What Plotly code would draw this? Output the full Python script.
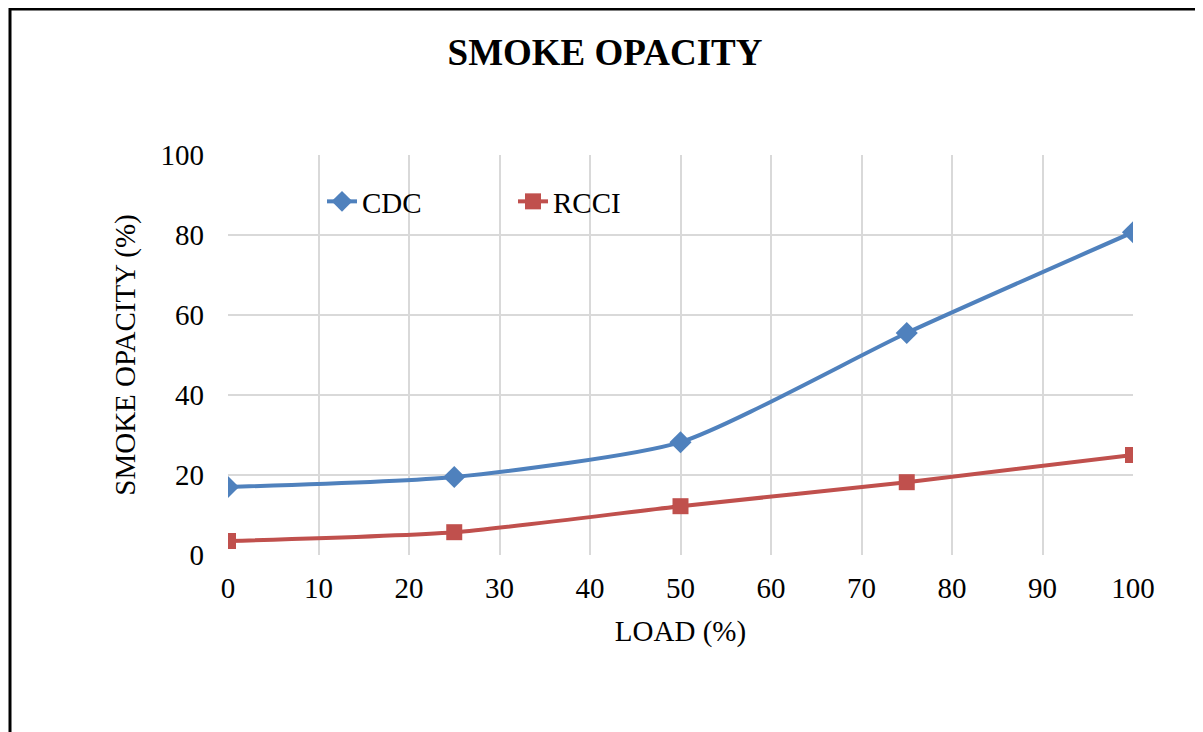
import plotly.graph_objects as go

load = [0, 25, 50, 75, 100]
cdc = [17.0, 19.5, 28.2, 55.5, 80.7]
rcci = [3.5, 5.7, 12.2, 18.2, 25.0]
x_ticks = [0, 10, 20, 30, 40, 50, 60, 70, 80, 90, 100]
y_ticks = [0, 20, 40, 60, 80, 100]

font = "Liberation Serif"

# the page body has an 8px margin, so the figure is laid out in its own coords
L, T, PW, PH = 220, 147, 905, 400
W, H = 1203, 732

fig = go.Figure()
fig.add_trace(go.Scatter(
    x=load, y=cdc, name="CDC", mode="lines+markers",
    line=dict(color="#4F81BD", width=4, shape="spline", smoothing=0.6),
    marker=dict(symbol="diamond", size=17, color="#4F81BD"),
))
fig.add_trace(go.Scatter(
    x=load, y=rcci, name="RCCI", mode="lines+markers",
    line=dict(color="#C0504D", width=4, shape="spline", smoothing=0.6),
    marker=dict(symbol="square", size=16, color="#C0504D"),
))

fig.update_layout(
    width=W, height=H,
    margin=dict(l=L, r=W - L - PW, t=T, b=H - T - PH),
    paper_bgcolor="white", plot_bgcolor="white",
    font=dict(family=font, size=29, color="black"),
    title=dict(text="<b>SMOKE OPACITY</b>",
               x=(605 - 8) / W, xanchor="center", y=1 - (52 - 8) / H, yanchor="middle",
               font=dict(family=font, size=37, color="black")),
    legend=dict(orientation="h", x=(322 - 228) / PW, y=1 - (176 - 155) / PH,
                xanchor="left", yanchor="top",
                bgcolor="rgba(0,0,0,0)", font=dict(size=29),
                entrywidth=146, entrywidthmode="pixels"),
    showlegend=True,
)
fig.update_xaxes(
    range=[0, 100], tickvals=x_ticks, showgrid=True, gridcolor="#D9D9D9", gridwidth=2,
    zeroline=False, showline=False, ticks="", ticklabelstandoff=13,
    title=dict(text="LOAD (%)", font=dict(size=29), standoff=17),
)
fig.update_yaxes(
    range=[0, 100], tickvals=y_ticks, showgrid=True, gridcolor="#D9D9D9", gridwidth=2,
    zeroline=False, showline=False, ticks="", ticklabelstandoff=23,
    title=dict(text="SMOKE OPACITY (%)", font=dict(size=29), standoff=16),
)
# outer border
fig.add_shape(type="rect", xref="paper", yref="paper",
              x0=(2 - L) / PW, x1=(1192 - L) / PW,
              y0=-(760 - T - PH) / PH, y1=(T + PH - 1) / PH,
              line=dict(color="black", width=3), layer="above")

fig.write_html("out.html")
